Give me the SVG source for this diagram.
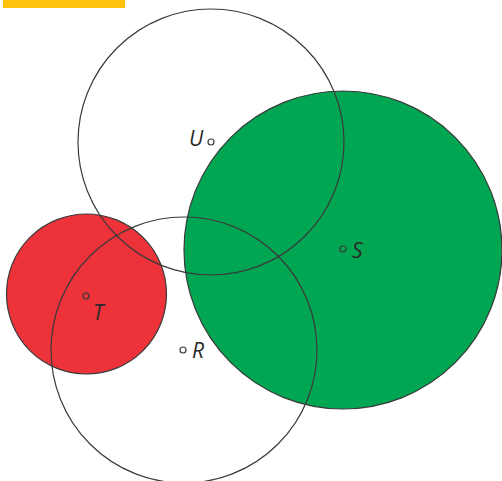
<svg xmlns="http://www.w3.org/2000/svg" width="502" height="481" viewBox="0 0 502 481">
<style>
.o{fill:none;stroke:#3a3a3a;stroke-width:1.2}
.p{fill:none;stroke:#3a3a3a;stroke-width:1.2}
.l{font-family:"Open Sans","Liberation Sans",sans-serif;font-style:italic;font-size:21px;fill:#2a2a2a}
</style>
<rect x="3" y="0" width="122" height="8" fill="#ffc20e"/>
<g id="S"><circle cx="343" cy="250" r="159" fill="#00a651" stroke="#3a3a3a" stroke-width="1.2"/></g>
<g id="T"><circle cx="86.5" cy="294" r="80" fill="#ed323a" stroke="#3a3a3a" stroke-width="1.2"/></g>
<g id="U"><circle class="o" cx="211" cy="142" r="133"/></g>
<g id="R"><circle class="o" cx="184" cy="350" r="133"/></g>
<g id="points">
<circle class="p" cx="211" cy="142" r="3"/>
<circle class="p" cx="343" cy="249" r="3"/>
<circle class="p" cx="86" cy="296" r="3"/>
<circle class="p" cx="183" cy="350" r="3"/>
<text class="l" x="189" y="146">U</text>
<text class="l" x="352" y="258">S</text>
<text class="l" x="93" y="320">T</text>
<text class="l" x="192" y="358">R</text>
</g>
</svg>
